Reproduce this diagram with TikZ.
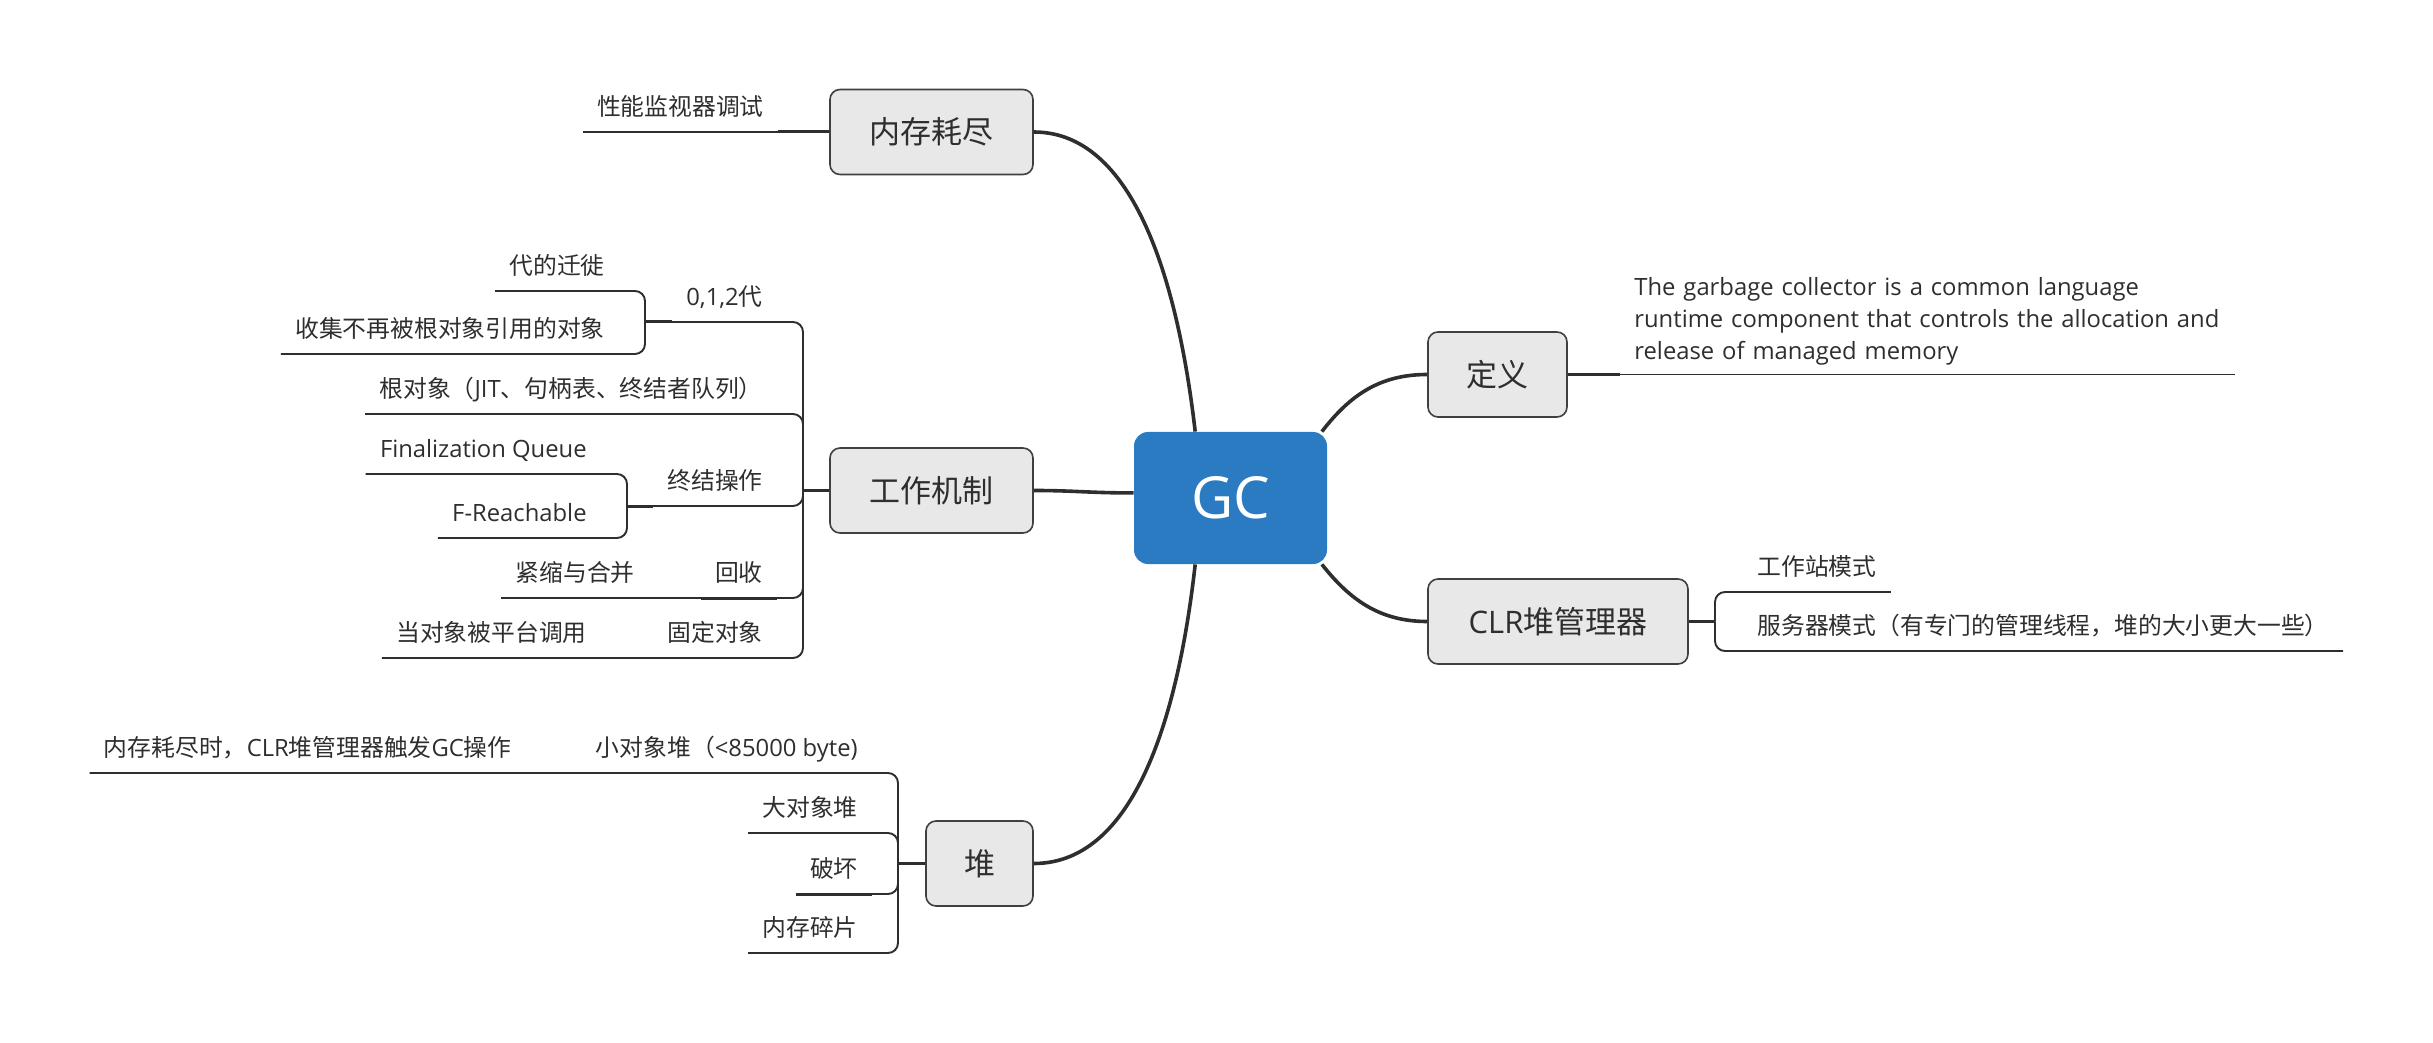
\documentclass[tikz,border=0pt]{standalone}
\usepackage{fontspec}
\setmainfont{Open Sans}
\newfontfamily\cjk{Noto Sans CJK SC}
\newcommand{\zh}[1]{{\cjk #1}}
\definecolor{blue1}{RGB}{43,123,194}
\definecolor{gray1}{RGB}{64,64,64}
\definecolor{gray4}{RGB}{232,232,232}
\definecolor{line1}{RGB}{46,46,46}
\definecolor{text1}{RGB}{46,46,46}

\begin{document}
\begin{tikzpicture}[x=0.5pt, y=-0.5pt]

\tikzstyle{core}		=[rectangle, rounded corners=7pt, fill=blue1, text=white, minimum width=96.5pt, minimum height=66pt, font=\fontsize{29}{34}\selectfont]
\tikzstyle{topic}		=[rectangle, rounded corners=5pt, draw=gray1, fill=gray4, line width=0.8pt, minimum height=42.5pt, text=text1, font=\fontsize{15.5}{18}\selectfont]
\tikzstyle{leaf}		=[inner xsep=7pt, inner ysep=5.5pt, text height=9pt, text depth=2.5pt, text=text1, font=\fontsize{11.9}{16}\selectfont]
\tikzstyle{leafzh}		=[leaf, font=\cjk\fontsize{11.9}{16}\selectfont]
\tikzstyle{twig}		=[draw=line1, line width=0.95pt, rounded corners=5pt]
\tikzstyle{stem}		=[twig, line width=1.5pt]
\tikzstyle{mainlink}	=[draw=line1, line width=1.8pt]

\useasboundingbox (0,0) rectangle (2433,1043);

% centre and main topics
\node[core] 						(gc)   at (1230.5,498)	{GC};
\node[topic, minimum width=101.5pt] 	(mem)  at (931.5,132)	{\zh{内存耗尽}};
\node[topic, minimum width=101.5pt] 	(work) at (931.5,490.5)	{\zh{工作机制}};
\node[topic, minimum width=53.5pt] 	(heap) at (979.5,863.5)	{\zh{堆}};
\node[topic, minimum width=69.5pt] 	(def)  at (1497.5,374.5)	{\zh{定义}};
\node[topic, minimum width=130pt] 	(clr)  at (1558,621.5)	{CLR\zh{堆管理器}};

\draw [mainlink] (gc.118) .. controls (1180,300) and (1140,132) .. (mem.east);
\draw [mainlink] (gc.177) .. controls (1090,493) and (1075,490.5) .. (work.east);
\draw [mainlink] (gc.242) .. controls (1180,700) and (1140,863.5) .. (heap.east);
\draw [mainlink] (gc.36)  .. controls (1350,395) and (1380,374.5) .. (def.west);
\draw [mainlink] (gc.-36) .. controls (1350,600) and (1380,621.5) .. (clr.west);

% memory
\node[leafzh, anchor=south east] 	(perf)   at (778,132)	{性能监视器调试};
\draw [stem] (mem.west) -- (perf.south east);
\draw [twig] (perf.south east) -- (perf.south west);

% mechanism
\coordinate (jwork) at (803,490.5);
\coordinate (jgen)  at (645,322);
\coordinate (jfin)  at (627,506);

\node[leaf, anchor=south east] 	(gen)    at (777,322)	{0,1,2\zh{代}};
\node[leafzh, anchor=south east] 	(migr)   at (619,291)	{代的迁徙};
\node[leafzh, anchor=south east] 	(coll)   at (619,354)	{收集不再被根对象引用的对象};
\node[leaf, anchor=south east] 	(roots)  at (777,414)	{\zh{根对象（}JIT\zh{、句柄表、终结者队列）}};
\node[leafzh, anchor=south east] 	(fin)    at (777,506)	{终结操作};
\node[leaf, anchor=south east] 	(fq)     at (601,474)	{Finalization Queue};
\node[leaf, anchor=south east] 	(freach) at (601,538)	{F-Reachable};
\node[leafzh, anchor=south east] 	(recl)   at (777,598)	{回收};
\node[leafzh, anchor=south east] 	(comp)   at (649,598)	{紧缩与合并};
\node[leafzh, anchor=south east] 	(pin)    at (777,658)	{固定对象};
\node[leafzh, anchor=south east] 	(plat)   at (601,658)	{当对象被平台调用};

\draw [stem] (work.west) -- (jwork);
\draw [twig] (jwork) |- (gen.south east) -- (gen.south west);
\draw [stem] (gen.south west) -- (jgen);
\draw [twig] (jgen) |- (migr.south east) -- (migr.south west);
\draw [twig] (jgen) |- (coll.south east) -- (coll.south west);
\draw [twig] (jwork) |- (roots.south east) -- (roots.south west);
\draw [twig] (jwork) |- (fin.south east) -- (fin.south west);
\draw [stem] (fin.south west) -- (jfin);
\draw [twig] (jfin) |- (fq.south east) -- (fq.south west);
\draw [twig] (jfin) |- (freach.south east) -- (freach.south west);
\draw [twig] (jwork) |- (recl.south east);
\draw [stem] (recl.south east) -- (recl.south west);
\draw [twig] (recl.south west) -- (comp.south east) -- (comp.south west);
\draw [twig] (jwork) |- (pin.south east) -- (pin.south west) -- (plat.south east) -- (plat.south west);

% heap
\coordinate (jheap) at (898,863.5);

\node[leaf, anchor=south east] 	(soh)  at (872,773)	{\zh{小对象堆（}<85000 byte)};
\node[leaf, anchor=south east] 	(trig) at (526,773)	{\zh{内存耗尽时，}CLR\zh{堆管理器触发}GC\zh{操作}};
\node[leafzh, anchor=south east] 	(loh)  at (872,833)	{大对象堆};
\node[leafzh, anchor=south east] 	(dmg)  at (872,894)	{破坏};
\node[leafzh, anchor=south east] 	(frag) at (872,953)	{内存碎片};

\draw [stem] (heap.west) -- (jheap);
\draw [twig] (jheap) |- (soh.south east) -- (soh.south west) -- (trig.south east) -- (trig.south west);
\draw [twig] (jheap) |- (loh.south east) -- (loh.south west);
\draw [twig] (jheap) |- (dmg.south east);
\draw [stem] (dmg.south east) -- (dmg.south west);
\draw [twig] (jheap) |- (frag.south east) -- (frag.south west);

% definition
\node[leaf, anchor=south west, text width=293pt, align=left, text height=, text depth=, inner ysep=4.5pt] (note) at (1620,374.5)
	{The garbage collector is a common language\\runtime component that controls the allocation and\\release of managed memory};
\draw [stem] (def.east) -- (note.south west);
\draw [twig] (note.south west) -- (note.south east);

% clr heap manager
\coordinate (jclr) at (1715,621.5);

\node[leafzh, anchor=south west] 	(ws)  at (1743,592)	{工作站模式};
\node[leafzh, anchor=south west] 	(srv) at (1743,651)	{服务器模式（有专门的管理线程，堆的大小更大一些）};

\draw [stem] (clr.east) -- (jclr);
\draw [twig] (jclr) |- (ws.south west) -- (ws.south east);
\draw [twig] (jclr) |- (srv.south west) -- (srv.south east);

\end{tikzpicture}
\end{document}
